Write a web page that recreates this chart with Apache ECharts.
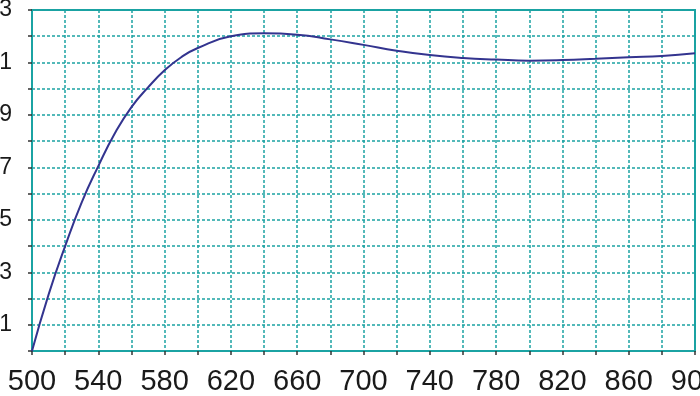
<!DOCTYPE html>
<html>
<head>
<meta charset="utf-8">
<script src="https://cdn.jsdelivr.net/npm/echarts@6/dist/echarts.min.js"></script>
<style>html,body{margin:0;padding:0;background:#fff;}#c{width:700px;height:396px;}</style>
</head>
<body>
<div id="c"></div>
<script>
var xs = [500,510,520,530,540,550,560,570,580,590,600,620,640,660,680,700,720,740,760,780,800,820,840,860,880,900];
var ys = [0,0.215,0.40,0.567,0.705,0.83,0.93,1.005,1.07,1.12,1.155,1.20,1.211,1.206,1.188,1.167,1.145,1.128,1.117,1.111,1.107,1.109,1.114,1.12,1.125,1.135];
var xLabelValues = [500,540,580,620,660,700,740,780,820,860,900];
var yLabelValues = [0.1,0.3,0.5,0.7,0.9,1.1,1.3];

var teal = '#1ba3a3';
var chart = echarts.init(document.getElementById('c'), null, {renderer:'canvas'});
chart.setOption({
  animation: false,
  grid: {left: 32, right: 5, top: 10, bottom: 45, containLabel: false, outerBoundsMode: 'none',
         show: true, borderColor: teal, borderWidth: 2, backgroundColor: 'transparent'},
  xAxis: {
    type: 'value', min: 500, max: 900, interval: 20,
    axisLine: {show: true, lineStyle: {color: teal, width: 2}},
    axisTick: {show: true, length: 4, lineStyle: {color: '#333', width: 1.5}},
    splitLine: {show: true, lineStyle: {color: teal, type: [3, 2], width: 1.5}},
    axisLabel: {
      fontFamily: 'Liberation Sans', fontSize: 29, color: '#1a1a1a', margin: 16,
      formatter: function (v) { return xLabelValues.indexOf(v) >= 0 ? String(v) : ''; }
    }
  },
  yAxis: {
    type: 'value', min: 0, max: 1.3, interval: 0.1,
    axisLine: {show: true, lineStyle: {color: teal, width: 2}},
    axisTick: {show: true, length: 4, lineStyle: {color: '#333', width: 1.5}},
    splitLine: {show: true, lineStyle: {color: teal, type: [3, 2], width: 1.5}},
    axisLabel: {
      fontFamily: 'Liberation Sans', fontSize: 23, color: '#1a1a1a', margin: 20,
      formatter: function (v) {
        for (var i = 0; i < yLabelValues.length; i++) {
          if (Math.abs(yLabelValues[i] - v) < 1e-6) return yLabelValues[i].toFixed(1);
        }
        return '';
      }
    }
  },
  series: [{
    type: 'line',
    data: xs.map(function (x, i) { return [x, ys[i]]; }),
    smooth: 0.5,
    showSymbol: false,
    lineStyle: {color: '#33348f', width: 2}
  }]
});
</script>
</body>
</html>
